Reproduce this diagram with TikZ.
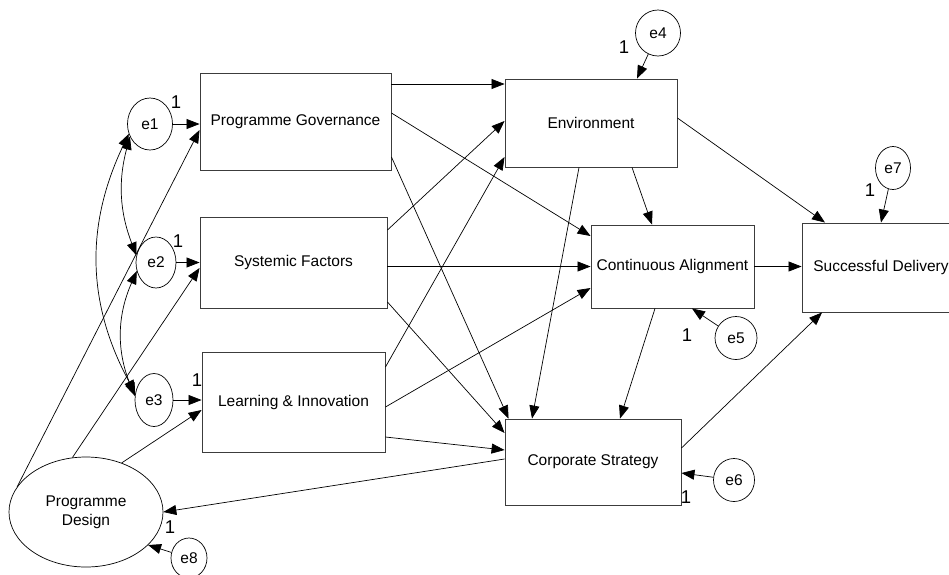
\documentclass[tikz,border=0pt]{standalone}
\usepackage{fontspec}
\setmainfont{Liberation Sans}
\usetikzlibrary{arrows.meta,shapes.geometric}
\definecolor{boxgray}{RGB}{60,60,60}

\begin{document}
\begin{tikzpicture}[x=1pt,y=-1pt,
  var/.style={draw=boxgray,line width=0.9pt,rectangle,inner sep=0pt,font=\fontsize{15.5}{18}\selectfont},
  err/.style={draw,ellipse,line width=0.7pt,inner sep=0pt,font=\fontsize{15.5}{18}\selectfont},
  one/.style={inner sep=0pt,font=\fontsize{18.5}{20}\selectfont},
  arr/.style={-{Triangle[length=13pt,width=10pt]},line width=0.7pt},
  covarr/.style={{Triangle[length=13pt,width=10pt]}-{Triangle[length=13pt,width=10pt]},line width=0.7pt}]
\useasboundingbox (0,0) rectangle (949,574);
% Observed variables
\node[var,minimum width=191pt,minimum height=97pt] (pg) at (295.5,121.5) {Programme Governance};
\node[var,minimum width=187pt,minimum height=91pt] (sf) at (293.5,262.5) {Systemic Factors};
\node[var,minimum width=183pt,minimum height=100pt] (li) at (293.5,402) {Learning \& Innovation};
\node[var,minimum width=172pt,minimum height=88pt] (env) at (591,123) {Environment};
\node[var,minimum width=163pt,minimum height=83pt] (ca) at (672.5,266.5) {Continuous Alignment};
\node[var,minimum width=176pt,minimum height=86pt] (cs) at (593,462) {Corporate Strategy};
\node[var,minimum width=158pt,minimum height=89pt] (sd) at (881,267.5) {Successful Delivery};
% Latent variable
\node[err,minimum width=154pt,minimum height=110pt,align=center,font=\fontsize{15.5}{19}\selectfont] (pd) at (86,512) {Programme\\Design};
% Error terms
\node[err,minimum width=45pt,minimum height=52pt] (e1) at (150,124) {e1};
\node[err,minimum width=40pt,minimum height=51pt] (e2) at (156,262.5) {e2};
\node[err,minimum width=38pt,minimum height=53pt] (e3) at (154,400) {e3};
\node[err,minimum width=45pt,minimum height=46pt] (e4) at (658,33) {e4};
\node[err,minimum width=42pt,minimum height=43pt] (e5) at (736,338) {e5};
\node[err,minimum width=41pt,minimum height=43pt] (e6) at (734,480) {e6};
\node[err,minimum width=35pt,minimum height=43pt] (e7) at (893,168) {e7};
\node[err,minimum width=36pt,minimum height=40pt] (e8) at (189,558) {e8};
% Fixed loadings
\node[one] (n1) at (176,102) {1};
\node[one] (n2) at (178,241) {1};
\node[one] (n3) at (197,380) {1};
\node[one] (n4) at (624,47) {1};
\node[one] (n5) at (687,335) {1};
\node[one] (n6) at (686,497) {1};
\node[one] (n7) at (870,190) {1};
\node[one] (n8) at (170,527) {1};
% Error terms into variables
\draw[arr] (e1.east) -- (e1.east -| pg.west);
\draw[arr] (e2.east) -- (e2.east -| sf.west);
\draw[arr] (e3.east) -- (e3.east -| li.west);
\draw[arr] (e4) -- ([xshift=46pt]env.north);
\draw[arr] (e5) -- ([xshift=19.5pt]ca.south);
\draw[arr] (e6) -- ([yshift=-11pt]cs.east);
\draw[arr] (e7) -- (sd.north);
\draw[arr] (e8) -- (pd.-28);
% Programme Design
\draw[arr] (pd.160) -- ([yshift=-8.5pt]pg.west);
\draw[arr] (pd.104) -- ([yshift=-5.5pt]sf.west);
\draw[arr] (pd.54) -- ([yshift=-8pt]li.west);
% Programme Governance
\draw[arr] ([yshift=37.5pt]pg.east) -- ([yshift=39pt]env.west);
\draw[arr] ([yshift=8.5pt]pg.east) -- ([yshift=30.5pt]ca.west);
\draw[arr] ([yshift=-35.5pt]pg.east) -- ([xshift=4pt]cs.north west);
% Systemic Factors
\draw[arr] ([yshift=32.5pt]sf.east) -- ([yshift=2pt]env.west);
\draw[arr] (sf.east |- ca.west) -- (ca.west);
\draw[arr] ([yshift=-39.5pt]sf.east) -- ([yshift=29pt]cs.west);
% Learning & Innovation
\draw[arr] ([yshift=35pt]li.east) -- ([yshift=-34pt]env.west);
\draw[arr] ([yshift=-5pt]li.east) -- ([yshift=-21.5pt]ca.west);
\draw[arr] ([yshift=-35pt]li.east) -- ([yshift=12pt]cs.west);
% Environment
\draw[arr] ([xshift=41pt]env.south) -- ([xshift=-20.5pt]ca.north);
\draw[arr] ([xshift=-12pt]env.south) -- ([xshift=-61pt]cs.north);
\draw[arr] ([yshift=5pt]env.east) -- ([xshift=-56pt]sd.north);
% Continuous Alignment
\draw[arr] (ca.east) -- (ca.east -| sd.west);
\draw[arr] ([xshift=-17.5pt]ca.south) -- ([xshift=27pt]cs.north);
% Corporate Strategy
\draw[arr] ([yshift=14pt]cs.east) -- ([xshift=-59pt]sd.south);
\draw[arr] ([yshift=3pt]cs.west) -- (pd.east);
% Correlated errors
\draw[covarr] (e1.212) to[bend right=18] (e2.160);
\draw[covarr] (e1.205) to[bend right=27] (e3.160);
\draw[covarr] (e2.204) to[bend right=23] (e3.168);
\end{tikzpicture}
\end{document}
